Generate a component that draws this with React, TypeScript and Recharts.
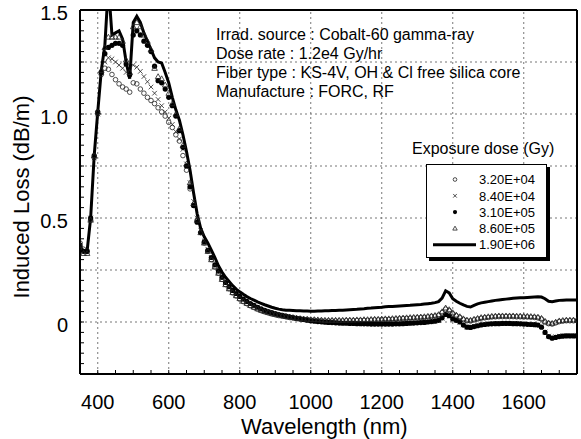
import React from "react";
import { LineChart, Line, XAxis, YAxis, ReferenceLine, Legend } from "recharts";

const FONT = '"Liberation Sans", Arial, Helvetica, sans-serif';

// wavelength (nm)
const wavelength = [
  350, 360, 370, 380, 390, 400, 410, 420, 430, 440,
  450, 460, 470, 480, 490, 500, 510, 520, 530, 540,
  550, 560, 570, 580, 590, 600, 610, 620, 630, 640,
  650, 660, 670, 680, 690, 700, 710, 720, 730, 740,
  750, 760, 770, 780, 790, 800, 810, 820, 830, 840,
  850, 860, 870, 880, 890, 900, 910, 920, 930, 940,
  950, 960, 970, 980, 990, 1000,
  1010, 1020, 1030, 1040, 1050, 1060, 1070, 1080, 1090, 1100,
  1110, 1120, 1130, 1140, 1150, 1160, 1170, 1180, 1190, 1200,
  1210, 1220, 1230, 1240, 1250, 1260, 1270, 1280, 1290, 1300,
  1310, 1320, 1330, 1340, 1350, 1360, 1370, 1380, 1390, 1400,
  1410, 1420, 1430, 1440, 1450, 1460, 1470, 1480, 1490, 1500,
  1510, 1520, 1530, 1540, 1550, 1560, 1570, 1580, 1590, 1600,
  1610, 1620, 1630, 1640, 1650, 1660, 1670, 1680, 1690, 1700,
  1710, 1720, 1730, 1740, 1750,
];

// induced loss (dB/m) per exposure dose
const dose32e4 = [
  0.38, 0.35, 0.34, 0.49, 0.79, 1.0, 1.19, 1.22, 1.215, 1.19,
  1.165, 1.145, 1.13, 1.12, 1.105, 1.15, 1.145, 1.12, 1.1, 1.08,
  1.065, 1.05, 1.03, 1.01, 0.99, 0.96, 0.935, 0.9, 0.87, 0.8,
  0.73, 0.64, 0.56, 0.49, 0.43, 0.38, 0.34, 0.3, 0.265, 0.235,
  0.205, 0.18, 0.16, 0.14, 0.125, 0.11, 0.098, 0.088, 0.078, 0.07,
  0.062, 0.055, 0.049, 0.044, 0.039, 0.035, 0.031, 0.028, 0.025, 0.022,
  0.02, 0.017, 0.015, 0.013, 0.012, 0.01,
  0.009, 0.007, 0.006, 0.005, 0.005, 0.005, 0.005, 0.005, 0.005, 0.006,
  0.006, 0.006, 0.007, 0.007, 0.008, 0.008, 0.009, 0.01, 0.01, 0.011,
  0.012, 0.012, 0.013, 0.014, 0.015, 0.016, 0.017, 0.018, 0.019, 0.02,
  0.021, 0.022, 0.024, 0.026, 0.028, 0.032, 0.045, 0.062, 0.055, 0.04,
  0.03, 0.022, 0.012, 0.006, 0.005, 0.01, 0.014, 0.018, 0.02, 0.022,
  0.024, 0.025, 0.026, 0.026, 0.026, 0.026, 0.026, 0.025, 0.025, 0.024,
  0.024, 0.023, 0.022, 0.02, 0.014, 0.0, -0.008, -0.01, -0.004, 0.002,
  0.004, 0.006, 0.006, 0.006, 0.006,
];
const dose84e4 = [
  0.37, 0.34, 0.34, 0.5, 0.79, 1.0, 1.2, 1.25, 1.27, 1.265,
  1.25, 1.235, 1.22, 1.2, 1.19, 1.235, 1.225, 1.205, 1.18, 1.155,
  1.13, 1.1, 1.07, 1.04, 1.01, 0.98, 0.95, 0.915, 0.88, 0.83,
  0.76, 0.67, 0.58, 0.5, 0.44, 0.39, 0.35, 0.31, 0.275, 0.245,
  0.215, 0.19, 0.17, 0.15, 0.135, 0.12, 0.107, 0.096, 0.086, 0.077,
  0.069, 0.061, 0.054, 0.048, 0.043, 0.038, 0.034, 0.03, 0.026, 0.023,
  0.02, 0.017, 0.014, 0.012, 0.009, 0.007,
  0.005, 0.003, 0.002, 0.0, -0.001, -0.002, -0.003, -0.004, -0.004, -0.005,
  -0.005, -0.006, -0.006, -0.007, -0.008, -0.008, -0.009, -0.009, -0.009, -0.009,
  -0.009, -0.009, -0.008, -0.008, -0.008, -0.007, -0.006, -0.005, -0.004, -0.003,
  -0.002, -0.001, 0.001, 0.002, 0.004, 0.007, 0.018, 0.034, 0.028, 0.014,
  0.007, -0.001, -0.014, -0.024, -0.024, -0.02, -0.016, -0.013, -0.011, -0.009,
  -0.008, -0.007, -0.007, -0.006, -0.006, -0.006, -0.007, -0.007, -0.008, -0.009,
  -0.01, -0.011, -0.012, -0.014, -0.022, -0.048, -0.068, -0.075, -0.071, -0.068,
  -0.066, -0.065, -0.066, -0.066, -0.066,
];
const dose31e5 = [
  0.37, 0.34, 0.34, 0.5, 0.8, 1.01, 1.2, 1.29, 1.32, 1.33,
  1.34, 1.34, 1.33, 1.24, 1.19, 1.38, 1.4, 1.38, 1.35, 1.33,
  1.3, 1.23, 1.16, 1.15, 1.12, 1.08, 1.04, 0.99, 0.92, 0.84,
  0.75, 0.65, 0.56, 0.48, 0.43, 0.385, 0.345, 0.31, 0.275, 0.245,
  0.215, 0.19, 0.17, 0.152, 0.137, 0.123, 0.11, 0.099, 0.089, 0.08,
  0.071, 0.063, 0.056, 0.05, 0.045, 0.04, 0.036, 0.032, 0.028, 0.025,
  0.021, 0.018, 0.015, 0.012, 0.009, 0.006,
  0.004, 0.002, 0.001, -0.001, -0.002, -0.003, -0.004, -0.005, -0.006, -0.006,
  -0.007, -0.007, -0.008, -0.008, -0.009, -0.009, -0.01, -0.01, -0.01, -0.01,
  -0.01, -0.01, -0.01, -0.009, -0.009, -0.008, -0.007, -0.006, -0.005, -0.004,
  -0.003, -0.002, 0.0, 0.002, 0.004, 0.008, 0.02, 0.036, 0.03, 0.015,
  0.008, 0.0, -0.015, -0.025, -0.026, -0.022, -0.018, -0.014, -0.012, -0.01,
  -0.009, -0.008, -0.008, -0.007, -0.007, -0.007, -0.008, -0.008, -0.009, -0.01,
  -0.011, -0.012, -0.013, -0.015, -0.025, -0.05, -0.07, -0.078, -0.074, -0.07,
  -0.068, -0.067, -0.067, -0.067, -0.067,
];
const dose86e5 = [
  0.37, 0.33, 0.33, 0.49, 0.8, 1.01, 1.21, 1.32, 1.37, 1.37,
  1.37, 1.37, 1.35, 1.26, 1.2, 1.42, 1.44, 1.42, 1.38, 1.35,
  1.31, 1.22, 1.18, 1.17, 1.14, 1.1, 1.05, 1.0, 0.93, 0.85,
  0.76, 0.67, 0.57, 0.49, 0.43, 0.38, 0.34, 0.3, 0.265, 0.235,
  0.205, 0.18, 0.16, 0.142, 0.127, 0.113, 0.1, 0.09, 0.08, 0.072,
  0.064, 0.057, 0.051, 0.046, 0.041, 0.037, 0.033, 0.03, 0.027, 0.024,
  0.022, 0.019, 0.017, 0.015, 0.014, 0.012,
  0.012, 0.011, 0.01, 0.009, 0.009, 0.009, 0.009, 0.009, 0.009, 0.01,
  0.01, 0.01, 0.011, 0.011, 0.012, 0.012, 0.013, 0.014, 0.014, 0.015,
  0.016, 0.016, 0.017, 0.018, 0.019, 0.02, 0.021, 0.022, 0.023, 0.024,
  0.025, 0.026, 0.028, 0.03, 0.032, 0.036, 0.05, 0.068, 0.06, 0.045,
  0.034, 0.026, 0.016, 0.01, 0.009, 0.014, 0.018, 0.022, 0.024, 0.026,
  0.028, 0.029, 0.03, 0.03, 0.03, 0.03, 0.03, 0.029, 0.029, 0.028,
  0.028, 0.027, 0.026, 0.024, 0.018, 0.004, -0.004, -0.006, 0.0, 0.006,
  0.008, 0.01, 0.01, 0.01, 0.01,
];
const dose19e6 = [
  0.36, 0.34, 0.34, 0.5, 0.8, 1.01, 1.21, 1.33, 1.62, 1.38,
  1.39, 1.4, 1.36, 1.25, 1.17, 1.44, 1.47, 1.44, 1.39, 1.35,
  1.31, 1.27, 1.25, 1.245, 1.2, 1.15, 1.08, 1.02, 0.97, 0.9,
  0.82, 0.73, 0.62, 0.52, 0.45, 0.41, 0.38, 0.345, 0.31, 0.27,
  0.24, 0.215, 0.195, 0.175, 0.158, 0.145, 0.133, 0.122, 0.113, 0.105,
  0.097, 0.09, 0.083, 0.077, 0.071, 0.066, 0.062, 0.059, 0.057, 0.056,
  0.055, 0.054, 0.054, 0.053, 0.053, 0.052,
  0.052, 0.053, 0.053, 0.054, 0.054, 0.055, 0.055, 0.056, 0.057, 0.058,
  0.059, 0.06, 0.061, 0.063, 0.064, 0.066, 0.067, 0.069, 0.07, 0.071,
  0.073, 0.074, 0.075, 0.076, 0.077, 0.078, 0.079, 0.08, 0.082, 0.083,
  0.084, 0.086, 0.088, 0.09, 0.093, 0.098, 0.115, 0.15, 0.14, 0.112,
  0.1, 0.09, 0.082, 0.075, 0.072, 0.08, 0.087, 0.092, 0.095, 0.098,
  0.101, 0.104, 0.106, 0.108, 0.11, 0.112, 0.114, 0.115, 0.116, 0.117,
  0.118, 0.119, 0.12, 0.121, 0.12, 0.112, 0.1, 0.098, 0.101, 0.104,
  0.105, 0.106, 0.106, 0.106, 0.106,
];

const seriesNames = ["3.20E+04", "8.40E+04", "3.10E+05", "8.60E+05", "1.90E+06"];
const seriesKinds = ["circle", "cross", "dot", "triangle", "line"];

const notes = [
  "Irrad. source : Cobalt-60 gamma-ray",
  "Dose rate : 1.2e4 Gy/hr",
  "Fiber type : KS-4V, OH & Cl free silica core",
  "Manufacture : FORC, RF",
];

const xTicks: number[] = [];
for (let v = 350; v <= 1750; v += 50) xTicks.push(v);
const yTicks: number[] = [];
for (let i = -5; i <= 30; i++) yTicks.push(Math.round(i * 5) / 100);
const xGrid = [400, 600, 800, 1000, 1200, 1400, 1600];
const yGrid = [0, 0.25, 0.5, 0.75, 1, 1.25];

const data = wavelength.map((wl, i) => ({
  wl,
  d1: dose32e4[i],
  d2: dose84e4[i],
  d3: dose31e5[i],
  d4: dose86e5[i],
  d5: dose19e6[i],
}));

const fmtX = (v: number) => (v % 200 === 0 && v >= 400 && v <= 1600 ? String(v) : "");
const fmtY = (v: number) => {
  if (Math.abs(v) < 1e-9) return "0";
  const r = Math.round(v * 100);
  return r % 50 === 0 ? v.toFixed(1) : "";
};

function Marker({ kind, x, y, s = 1 }: { kind: string; x: number; y: number; s?: number }) {
  if (kind === "circle")
    return <circle cx={x} cy={y} r={2.3 * s} fill="none" stroke="#222" strokeWidth={0.8} />;
  if (kind === "dot") return <circle cx={x} cy={y} r={2.6 * s} fill="#000" />;
  if (kind === "cross") {
    const d = 2.3 * s;
    return (
      <path
        d={`M${x - d},${y - d}L${x + d},${y + d}M${x - d},${y + d}L${x + d},${y - d}`}
        stroke="#222"
        strokeWidth={0.8}
        fill="none"
      />
    );
  }
  if (kind === "triangle") {
    const d = 2.8 * s;
    return (
      <path
        d={`M${x},${y - d}L${x + d},${y + d * 0.75}L${x - d},${y + d * 0.75}Z`}
        fill="none"
        stroke="#222"
        strokeWidth={0.8}
      />
    );
  }
  return null;
}

const dotFor = (kind: string) => (p: any) => {
  const { cx, cy, index } = p;
  if (cx == null || cy == null || Number.isNaN(cy)) return <g key={`${kind}-${index}`} />;
  return (
    <g key={`${kind}-${index}`}>
      <Marker kind={kind} x={cx} y={cy} />
    </g>
  );
};

const LegendBox = () => (
  <div
    style={{
      width: 121,
      height: 94,
      boxSizing: "border-box",
      border: "1px solid #000",
      background: "#fff",
      boxShadow: "3px 3px 0 #000",
    }}
  >
    <svg width={119} height={92} style={{ display: "block" }}>
      {seriesNames.map((name, i) => {
        const y = 14.5 + i * 16.3;
        return (
          <g key={name}>
            {seriesKinds[i] === "line" ? (
              <line x1={6} x2={49} y1={y} y2={y} stroke="#000" strokeWidth={3} />
            ) : (
              <Marker kind={seriesKinds[i]} x={28} y={y} s={0.8} />
            )}
            <text x={52} y={y + 4.7} fontSize={13} fontFamily={FONT} fill="#000">
              {name}
            </text>
          </g>
        );
      })}
    </svg>
  </div>
);

const axisStyle = { stroke: "#000", strokeWidth: 2 };
const tickStyle = { fill: "#000", fontSize: 20, fontFamily: FONT };

const App: React.FC = () => {
  return (
    <div style={{ position: "absolute", left: 0, top: 0, width: 581, height: 439, background: "#fff" }}>
      <LineChart
        width={581}
        height={439}
        data={data}
        margin={{ top: 9, right: 3, bottom: 64, left: 79 }}
      >
        <XAxis
          type="number"
          dataKey="wl"
          domain={[350, 1750]}
          allowDataOverflow
          ticks={xTicks}
          interval={0}
          tickFormatter={fmtX}
          height={1}
          tickSize={-4}
          tickMargin={25}
          axisLine={axisStyle}
          tickLine={{ stroke: "#000" }}
          tick={tickStyle}
        />
        <XAxis
          xAxisId="top"
          orientation="top"
          type="number"
          dataKey="wl"
          domain={[350, 1750]}
          allowDataOverflow
          ticks={xTicks}
          interval={0}
          height={1}
          tickSize={-4}
          tick={false}
          axisLine={axisStyle}
          tickLine={{ stroke: "#000" }}
        />
        <YAxis
          type="number"
          domain={[-0.25, 1.5]}
          allowDataOverflow
          ticks={yTicks}
          interval={0}
          tickFormatter={fmtY}
          width={1}
          tickSize={-4}
          tickMargin={16}
          axisLine={axisStyle}
          tickLine={{ stroke: "#000" }}
          tick={{ ...tickStyle, dy: 3 }}
        />
        <YAxis
          yAxisId="right"
          orientation="right"
          type="number"
          domain={[-0.25, 1.5]}
          allowDataOverflow
          ticks={yTicks}
          interval={0}
          width={1}
          tickSize={-4}
          tick={false}
          axisLine={axisStyle}
          tickLine={{ stroke: "#000" }}
        />
        {xGrid.map((v) => (
          <ReferenceLine key={`gx${v}`} x={v} stroke="#777" strokeDasharray="2 3" strokeWidth={1} />
        ))}
        {yGrid.map((v) => (
          <ReferenceLine key={`gy${v}`} y={v} stroke="#777" strokeDasharray="2 3" strokeWidth={1} />
        ))}
        <Line dataKey="d1" name={seriesNames[0]} stroke="none" dot={dotFor("circle")} activeDot={false} isAnimationActive={false} />
        <Line dataKey="d2" name={seriesNames[1]} stroke="none" dot={dotFor("cross")} activeDot={false} isAnimationActive={false} />
        <Line dataKey="d3" name={seriesNames[2]} stroke="none" dot={dotFor("dot")} activeDot={false} isAnimationActive={false} />
        <Line dataKey="d4" name={seriesNames[3]} stroke="none" dot={dotFor("triangle")} activeDot={false} isAnimationActive={false} />
        <Line dataKey="d5" name={seriesNames[4]} stroke="#000" strokeWidth={3} dot={false} activeDot={false} isAnimationActive={false} />
        <Legend
          layout="horizontal"
          verticalAlign="middle"
          align="center"
          wrapperStyle={{ left: 426, top: 164, width: 121, height: 94 }}
          content={() => <LegendBox />}
        />
      </LineChart>
      <svg
        width={581}
        height={439}
        style={{ position: "absolute", left: 0, top: 0, pointerEvents: "none" }}
        fontFamily={FONT}
      >
        {notes.map((t, i) => (
          <text key={t} x={216} y={39.5 + i * 19.1} fontSize={16} fill="#000">
            {t}
          </text>
        ))}
        <text x={412} y={154} fontSize={16} fill="#000">
          Exposure dose (Gy)
        </text>
        <text x={241} y={433.5} fontSize={22} fill="#000">
          Wavelength (nm)
        </text>
        <text x={29} y={197} fontSize={22} fill="#000" textAnchor="middle" transform="rotate(-90 29 197)">
          Induced Loss (dB/m)
        </text>
      </svg>
    </div>
  );
};

export default App;
